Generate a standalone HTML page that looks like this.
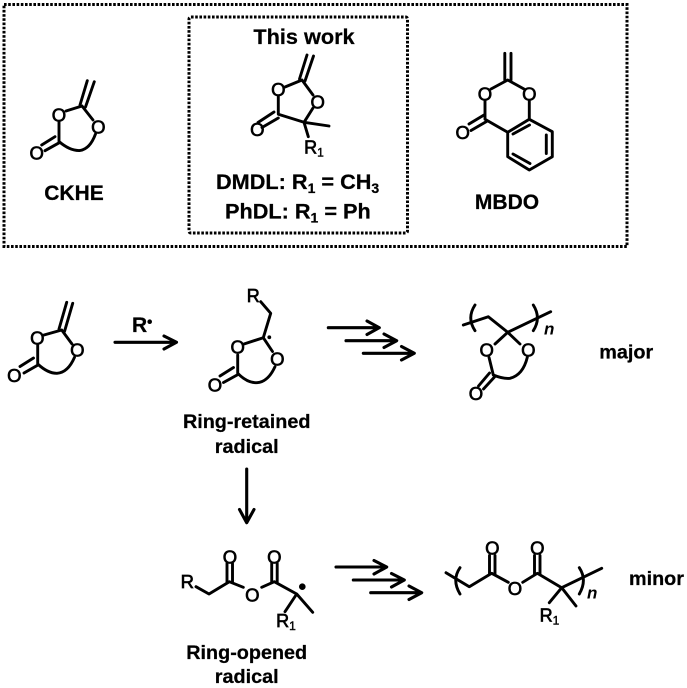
<!DOCTYPE html>
<html><head><meta charset="utf-8"><style>
html,body{margin:0;padding:0;background:#fff;width:687px;height:688px;overflow:hidden}
svg{display:block;filter:blur(.3px)}
text{font-family:"Liberation Sans",sans-serif;fill:#000}
.b{font-weight:bold;font-size:19.8px;stroke:#000;stroke-width:.25}
.h{font-weight:bold;font-size:21px;stroke:#000;stroke-width:.25}
.a{font-size:18.5px;text-anchor:middle;stroke:#000;stroke-width:.7}
.s{font-size:12px;stroke:#000;stroke-width:.4}
.m{text-anchor:middle}
.l{fill:none;stroke:#000;stroke-width:2.9;stroke-linecap:round;stroke-linejoin:round}
.d{fill:none;stroke:#000;stroke-width:3;stroke-dasharray:2.6 1.6}
.r{fill:none;stroke:#000;stroke-width:3.1;stroke-linecap:round;stroke-linejoin:round}
</style></head><body>
<svg width="687" height="688" viewBox="0 0 687 688" xmlns="http://www.w3.org/2000/svg">
<rect class="d" x="4" y="4.5" width="623" height="242"/>
<rect class="d" x="189" y="17" width="218.5" height="216" rx="2"/>

<!-- CKHE -->
<g class="l">
<path d="M66 111L82 106L93 120M59 122V141.500Q70 151 80 150.500Q90 149 95.500 134"/>
<path d="M80 105L87.300 80.700M85.500 107L94.300 81.700M55 136.700L41.700 145M59.300 142.700L45 150.700"/>
</g>
<text class="a" x="59" y="121.300">O</text><text class="a" x="98.300" y="133.700">O</text><text class="a" x="36.700" y="159.400">O</text>
<text class="h m" x="74" y="200">CKHE</text>

<!-- This work -->
<text class="h m" x="304" y="44" style="font-size:21.7px">This work</text>
<g class="l">
<path d="M285 87L302 80L313 95M278.300 96V114.300L304 122.300L329 126M304 122.300L308.300 136.700M304 122.300L313 108"/>
<path d="M299.500 79L307 55M305 81L313.500 56M274 112L258 122.500M278.300 118L262 127.500"/>
</g>
<text class="a" x="278.300" y="95.800">O</text><text class="a" x="317.700" y="108.400">O</text><text class="a" x="257.300" y="136">O</text>
<text class="a" x="314" y="153.500" style="font-size:18px">R<tspan class="s" dy="3">1</tspan></text>
<text class="b" x="216" y="189" style="font-size:21.7px">DMDL: R<tspan style="font-size:14px" dy="4">1</tspan><tspan dy="-4"> = CH</tspan><tspan style="font-size:14px" dy="4">3</tspan></text>
<text class="b" x="225" y="218.500" style="font-size:21.7px">PhDL: R<tspan style="font-size:14px" dy="4">1</tspan><tspan dy="-4"> = Ph</tspan></text>

<!-- MBDO -->
<g class="l">
<path d="M491 89L507.700 80L524 89M485 100.500V119.300L507.700 132.300V156.700L529.300 170L552.300 156.700V131.700L529.300 119.300L507.700 132.300M529.300 119.300V101"/>
<path d="M504.800 80V53.300M511 80V53.300M484 115L469 124M486.500 121.500L471 130.500"/>
<path d="M513 134L529.500 125M546.300 135V153.500M513 154L530 163.500"/>
</g>
<text class="a" x="485" y="100.700">O</text><text class="a" x="529.300" y="100.700">O</text><text class="a" x="462.700" y="139">O</text>
<text class="h m" x="507" y="209">MBDO</text>

<!-- lower CKHE -->
<g class="l">
<path d="M44 335L61.700 330L72 344M37.700 345V364Q48 373.500 57 373.300Q68 372.500 74.500 357.300"/>
<path d="M59 329L66.700 302.300M64.500 331.500L72.700 303.300M33.500 358L20 366.500M38 365L24 373"/>
</g>
<text class="a" x="37.300" y="344.400">O</text><text class="a" x="77.300" y="356.700">O</text><text class="a" x="14.300" y="382">O</text>

<!-- R arrow -->
<path class="r" d="M115 342.300H176M164 336L176.500 342.300L164 349" />
<text class="h" x="132" y="332">R</text><circle cx="149.700" cy="321.700" r="2.300"/>

<!-- Ring-retained radical -->
<g class="l">
<path d="M260.700 301.700L270.700 313.300L263.300 337.700M244 344L263.300 337.700L272.500 351.500M237.700 355V373.300Q247 383 257 382.700Q268 382 275 366.700"/>
<path d="M233.500 367.500L220 376M238 374.500L223.500 382.500"/>
</g>
<text class="a" x="253.300" y="302" style="font-size:18px">R</text><circle cx="269.300" cy="337.300" r="1.900"/>
<text class="a" x="237.700" y="353.400">O</text><text class="a" x="277.300" y="365.700">O</text><text class="a" x="215" y="391.700">O</text>
<text class="b m" x="246.700" y="428">Ring-retained</text>
<text class="b m" x="246.700" y="453">radical</text>

<!-- triple arrows 1 -->
<path class="r" d="M328.300 327.700H379M367 321L379.300 327.700L367 334.500M346 340.700H396.500M384 334L396.700 340.700L384 347.500M363.300 353.300H414M401.500 346.500L414.300 353.300L401.500 360"/>

<!-- polymer major -->
<g class="l">
<path d="M463.300 325L488.300 316.700L507.700 332.300L550.700 311.700M507.700 332.300L495 344M507.700 332.300L520 344M489 357.300L493.300 375Q503 379 510 378.300Q523 375 527.300 357.300"/>
<path d="M475 305Q466.500 318 475 330.700M533.300 305Q541.500 318 533.300 330.700"/>
<path d="M489.500 373L478.500 386M494.500 377L483.500 389"/>
</g>
<text class="a" x="486.700" y="356.700">O</text><text class="a" x="528.300" y="356.700">O</text><text class="a" x="476" y="400">O</text>
<text x="544" y="334.300" style="font-weight:bold;font-style:italic;font-size:17px">n</text>
<text class="b" x="599.300" y="358.300">major</text>

<!-- down arrow -->
<path class="r" d="M246.700 469V522M239.500 509.500L246.700 522.700L254 509.500"/>

<!-- Ring-opened radical -->
<g class="l">
<path d="M196 586.700L209 594L229.300 581.700L243.300 587.300M261.700 587.300L274.300 581.700L296.700 594L312.700 612.300M296.700 594L285 611.700"/>
<path d="M227 582V563.500M232.500 582V563.500M271.700 582V563.500M277.200 582V563.500"/>
</g>
<text class="a" x="230" y="563.400">O</text><text class="a" x="252.300" y="601.700">O</text><text class="a" x="274.300" y="563.400">O</text>
<text class="a" x="187.300" y="588">R</text>
<text class="a" x="286" y="627" style="font-size:18px">R<tspan class="s" dy="3">1</tspan></text>
<circle cx="302.300" cy="586.700" r="3.300"/>
<text class="b m" x="246.700" y="659">Ring-opened</text>
<text class="b m" x="246.700" y="683">radical</text>

<!-- triple arrows 2 -->
<path class="r" d="M336 567H386.500M374 560.500L386.700 567L374 574M353.300 580H404M391.500 573.500L404.300 580L391.500 587M370.700 592.700H421.500M409 586L421.700 592.700L409 599.500"/>

<!-- polymer minor -->
<g class="l">
<path d="M446 572.700L469.300 586.700L491.700 573.300L508.300 582.300M522.700 582.300L537.300 573.300L561.700 587.700L601.700 568.300M561.700 587.700L576 606M561.700 587.700L549.300 602.700"/>
<path d="M460 567.700Q451.500 580 460 594M579.300 567.700Q587.500 580 579.300 594"/>
<path d="M489.500 574V555.500M495 574V555.500M534.500 574V555.500M540 574V555.500"/>
</g>
<text class="a" x="492.300" y="554.400">O</text><text class="a" x="515" y="595">O</text><text class="a" x="537.300" y="554.400">O</text>
<text class="a" x="549.500" y="621.500" style="font-size:18px">R<tspan class="s" dy="3">1</tspan></text>
<text x="587" y="598.700" style="font-weight:bold;font-style:italic;font-size:17px">n</text>
<text class="b" x="629" y="585">minor</text>
</svg>
</body></html>
